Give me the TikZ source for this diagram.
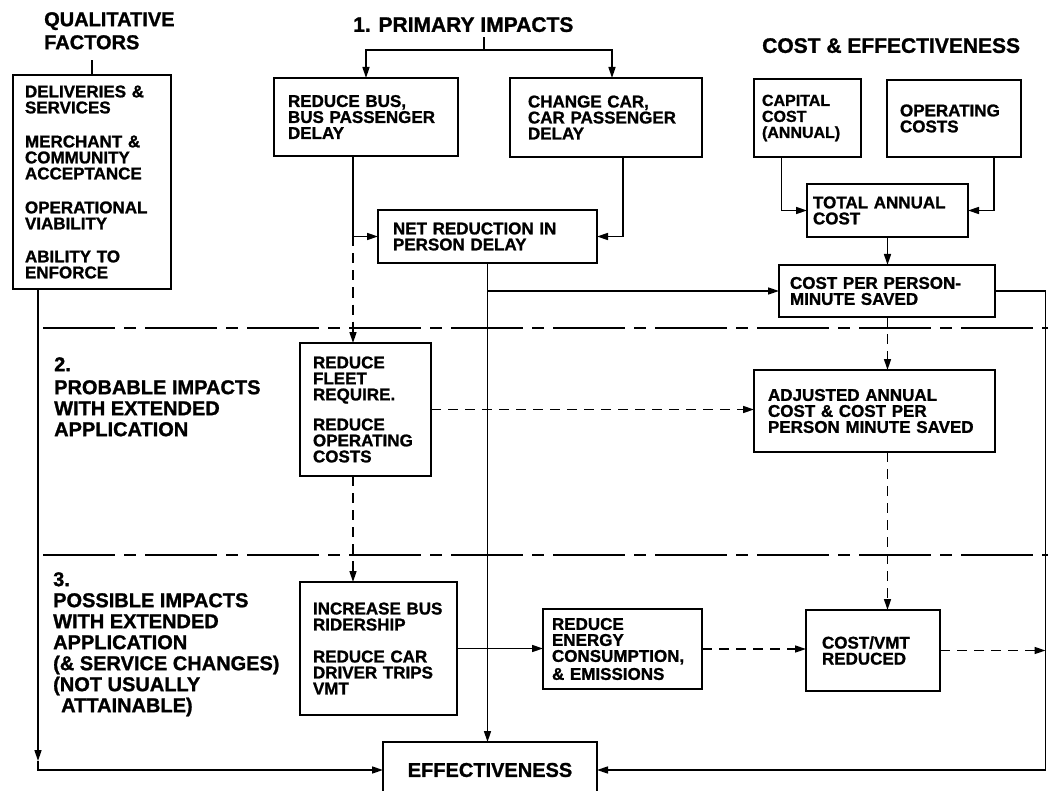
\documentclass[tikz,border=0pt]{standalone}
\usepackage{fontspec}
\setmainfont{Liberation Sans}[BoldFont={Liberation Sans Bold},BoldFeatures={FakeBold=1.2}]
\usetikzlibrary{arrows.meta}
\newcommand\bxf{\fontsize{17}{16}\selectfont\bfseries\hyphenpenalty=10000 }
\newcommand\bxs{\fontsize{16}{16}\selectfont\bfseries\hyphenpenalty=10000 }
\newcommand\ttlf{\fontsize{20}{23}\selectfont\bfseries}
\newcommand\ttlw{\fontsize{21}{23}\selectfont\bfseries}
\newcommand\secf{\fontsize{20}{21}\selectfont\bfseries}
\newcommand\efff{\fontsize{20}{20}\selectfont\bfseries}
\begin{document}
\begin{tikzpicture}[x=1pt,y=-1pt,
 box/.style={draw, line width=1.7pt, align=left, inner ysep=0pt, outer sep=0pt, font=\bxf, anchor=north west},
 conn/.style={line width=1.5pt},
 arr/.style={conn, -{Triangle[length=11pt,width=7pt]}},
 darr/.style={arr, dash pattern=on 10pt off 7pt},
 sepline/.style={line width=1.4pt, dash pattern=on 72pt off 9pt on 12pt off 9pt},
 lbl/.style={anchor=north west, inner sep=0pt, align=left}]
\useasboundingbox (0,0) rectangle (1048,791);

% titles
\node[lbl, font=\ttlf] (qualtitle) at (44,12) {QUALITATIVE\\FACTORS};
\node[lbl, font=\ttlw] (primtitle) at (353,17) {1.~\hspace{2pt}PRIMARY~IMPACTS};
\node[lbl, font=\ttlw] (costtitle) at (762,38) {COST~\&~EFFECTIVENESS};

% section labels
\node[lbl, font=\secf] (sec2) at (54,357) {2.\\[2pt]PROBABLE~IMPACTS\\WITH~EXTENDED\\APPLICATION};
\node[lbl, font=\secf] (sec3) at (53,572) {3.\\[0pt]POSSIBLE~IMPACTS\\WITH~EXTENDED\\APPLICATION\\(\&~SERVICE~CHANGES)\\(NOT~USUALLY\\\hspace*{8pt}ATTAINABLE)};

% boxes
\node[box, inner xsep=12pt, text width=134pt, minimum height=214pt] (qual) at (13,75)
 {DELIVERIES~\&\\SERVICES\\[18pt]MERCHANT~\&\\COMMUNITY\\ACCEPTANCE\\[18pt]OPERATIONAL\\VIABILITY\\[17pt]ABILITY~TO\\ENFORCE};
\node[box, inner xsep=14pt, text width=156pt, minimum height=78pt] (bus) at (274,78)
 {REDUCE~BUS,\\BUS~PASSENGER\\DELAY};
\node[box, inner xsep=18pt, text width=156pt, minimum height=79pt] (car) at (510,78)
 {CHANGE~CAR,\\CAR~PASSENGER\\DELAY};
\node[box, inner xsep=15pt, text width=189pt, minimum height=53pt] (net) at (378,210)
 {NET~REDUCTION~IN\\PERSON~DELAY};
\node[box, font=\bxs, inner xsep=8pt, text width=91pt, minimum height=78pt] (capital) at (754,79)
 {CAPITAL\\COST\\(ANNUAL)};
\node[box, inner xsep=13pt, text width=108pt, minimum height=77pt] (operating) at (887,80)
 {OPERATING\\COSTS};
\node[box, inner xsep=6pt, text width=149pt, minimum height=53pt] (total) at (807,184)
 {TOTAL~ANNUAL\\COST};
\node[box, inner xsep=11pt, text width=194pt, minimum height=52pt] (costper) at (779,265)
 {COST~PER~PERSON-\\MINUTE~SAVED};
\node[box, inner xsep=13pt, text width=105pt, minimum height=133pt] (fleet) at (300,343)
 {REDUCE\\FLEET\\REQUIRE.\\[14pt]REDUCE\\OPERATING\\COSTS};
\node[box, inner xsep=14pt, text width=213pt, minimum height=82pt] (adjusted) at (754,370)
 {ADJUSTED~ANNUAL\\COST~\&~COST~PER\\PERSON~MINUTE~SAVED};
\node[box, inner xsep=13pt, text width=131pt, minimum height=133pt] (increase) at (300,582)
 {INCREASE~BUS\\RIDERSHIP\\[16pt]REDUCE~CAR\\DRIVER~TRIPS\\VMT};
\node[box, inner xsep=9pt, text width=141pt, minimum height=80pt] (energy) at (543,609)
 {REDUCE\\ENERGY\\CONSUMPTION,\\[2pt]\&~EMISSIONS};
\node[box, inner xsep=16pt, text width=102pt, minimum height=81pt] (costvmt) at (806,610)
 {COST/VMT\\REDUCED};
\node[box, font=\efff, align=center, inner xsep=0pt, text width=214pt, minimum height=56pt] (eff) at (383,742)
 {EFFECTIVENESS};

% separators
\draw[sepline] (43,328) -- (1048,328);
\draw[sepline] (43,555) -- (1048,555);

% connectors
\draw[conn] (qual.north) -- ++(0,-15);
\coordinate (pj) at (484,50);
\draw[conn] (pj) -- ++(0,-13);
\draw[arr] (pj) -| (bus.north);
\draw[arr] (pj) -| ([xshift=6pt]car.north);
\draw[arr] ([xshift=-13pt]bus.south) |- (net.west);
\draw[arr] ([xshift=17pt]car.south) |- (net.east);
\draw[darr] ([xshift=-13pt]bus.south |- net.west) -- ([xshift=-13pt]bus.south |- fleet.north);
\draw[darr] ([xshift=-13pt]bus.south |- fleet.south) -- ([xshift=-13pt]bus.south |- increase.north);
\draw[arr] (net.south) -- (net.south |- eff.north);
\draw[arr] (net.south |- costper.west) -- (costper.west);
\draw[arr] ([xshift=-26pt]capital.south) |- (total.west);
\draw[arr] ([xshift=40pt]operating.south) |- (total.east);
\draw[arr] (total.south) -- (total.south |- costper.north);
\draw[darr] (total.south |- costper.south) -- (total.south |- adjusted.north);
\draw[darr] (total.south |- adjusted.south) -- (total.south |- costvmt.north);
\draw[darr] (fleet.east) -- (fleet.east -| adjusted.west);
\draw[arr] (increase.east) -- (increase.east -| energy.west);
\draw[darr] (energy.east) -- (energy.east -| costvmt.west);
\coordinate (rv) at (1045.5,291);
\draw[darr] (costvmt.east) -- (costvmt.east -| rv);
\draw[arr] (costper.east) -- (costper.east -| rv) -- (rv |- eff.east) -- (eff.east);
\coordinate (lc) at ([xshift=-54pt]qual.south |- eff.west);
\draw[arr] ([xshift=-54pt]qual.south) -- ([yshift=9pt]lc);
\draw[arr] ([yshift=9pt]lc) -- (lc) -- (eff.west);
\end{tikzpicture}
\end{document}
